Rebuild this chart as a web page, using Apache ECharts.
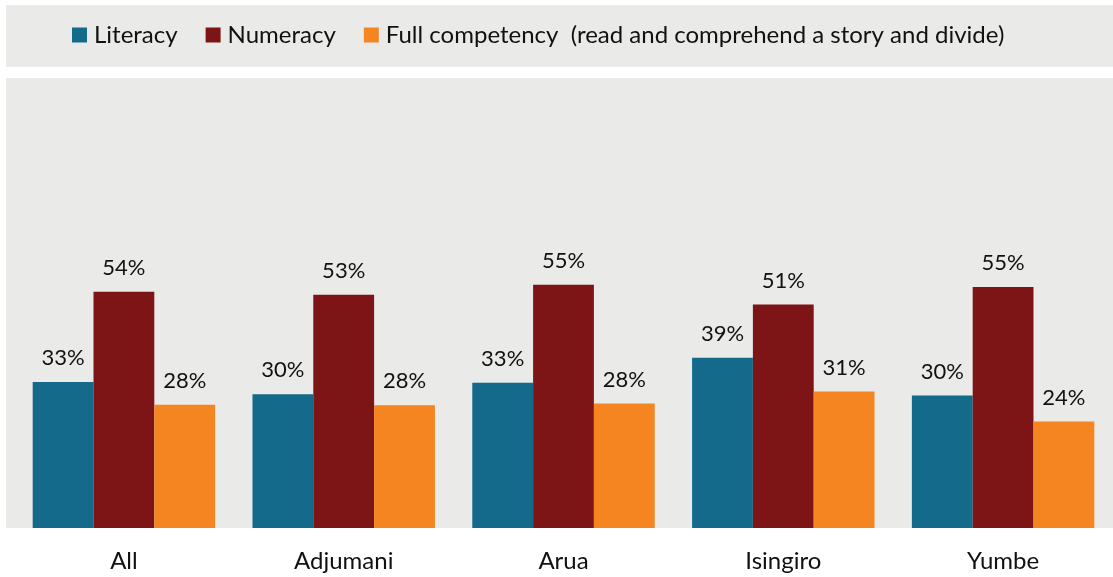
<!DOCTYPE html>
<html>
<head>
<meta charset="utf-8">
<script src="https://cdn.jsdelivr.net/npm/echarts@6/dist/echarts.min.js"></script>
<style>
  html, body { margin: 0; padding: 0; background: #fff; }
  #main { width: 1113px; height: 577px; }
</style>
</head>
<body>
<div id="main"></div>
<script>
// data (percent; labels show them rounded)
const categories = ["All", "Adjumani", "Arua", "Isingiro", "Yumbe"];
const literacy = [33.2, 30.4, 33.0, 38.7, 30.1];
const numeracy = [53.7, 53.0, 55.3, 50.8, 54.8];
const fullComp = [28.0, 27.9, 28.3, 31.0, 24.2];
const seriesNames = ["Literacy", "Numeracy", "Full competency  (read and comprehend a story and divide)"];

const FONT = "Lato";
const colors = ["#136A8A", "#7D1517", "#F58521"];

const myChart = echarts.init(document.getElementById("main"));

const labelOpt = {
  show: true,
  position: "top",
  distance: 13,
  color: "#111",
  fontFamily: FONT,
  fontSize: 22,
  formatter: (p) => Math.round(p.value) + "%",
};

function makeBar(name, data) {
  return {
    name: name,
    type: "bar",
    data: data,
    barGap: "0%",
    barCategoryGap: "17%",
    label: labelOpt,
  };
}

const option = {
  animation: false,
  color: colors,
  graphic: [
    // legend band
    { type: "rect", z: -10, shape: { x: 6, y: 5, width: 1107, height: 62 }, style: { fill: "#EAEAE8" } },
    // plot band
    { type: "rect", z: -10, shape: { x: 6, y: 78, width: 1107, height: 450 }, style: { fill: "#EAEAE8" } },
  ],
  legend: {
    top: 18,
    left: 67,
    itemWidth: 15,
    itemHeight: 15,
    itemGap: 28,
    icon: "rect",
    textStyle: { fontFamily: FONT, fontSize: 24, color: "#111", padding: [0, 0, 0, 2] },
    data: seriesNames,
  },
  grid: {
    left: 14,
    width: 1104,
    top: 88,
    bottom: 49,
    containLabel: false,
  },
  xAxis: {
    type: "category",
    data: categories,
    axisLine: { show: false },
    axisTick: { show: false },
    axisLabel: { margin: 21, fontFamily: FONT, fontSize: 24, color: "#111" },
  },
  yAxis: {
    type: "value",
    min: 0,
    max: 100,
    show: false,
    splitLine: { show: false },
  },
  series: [
    makeBar(seriesNames[0], literacy),
    makeBar(seriesNames[1], numeracy),
    makeBar(seriesNames[2], fullComp),
  ],
};

myChart.setOption(option);
</script>
</body>
</html>
